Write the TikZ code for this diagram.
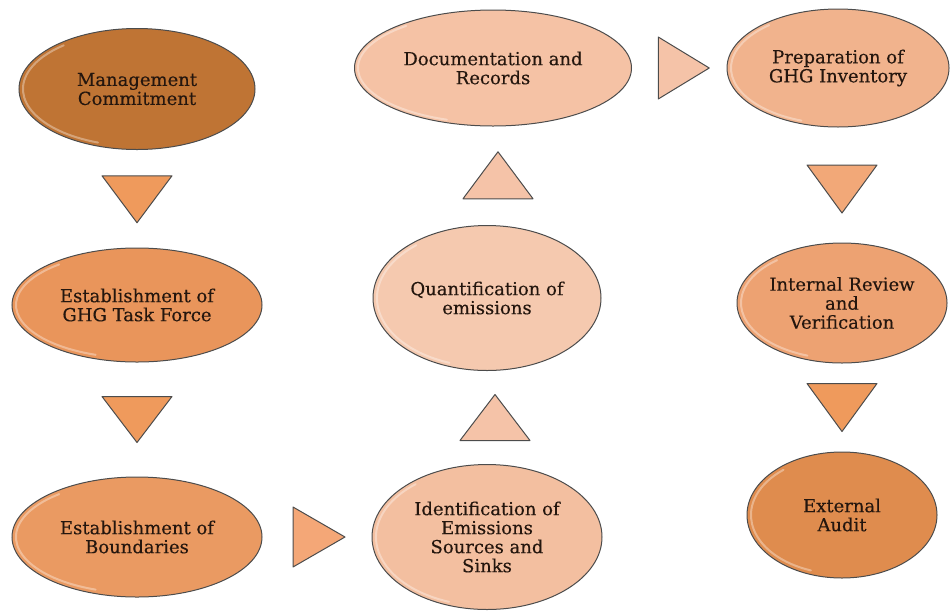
\documentclass[tikz,border=0pt]{standalone}
\usepackage{fontspec}
\setmainfont{DejaVu Serif}[FakeBold=0.3]
\usepackage{xcolor}
\usepackage{tikz}
\usetikzlibrary{shapes.geometric,calc}

\definecolor{txtbrown}{HTML}{24160E}
\definecolor{rust}{HTML}{BF7434}
\definecolor{orangeA}{HTML}{E9955B}
\definecolor{orangeB}{HTML}{EA9A62}
\definecolor{peachA}{HTML}{F3BFA0}
\definecolor{peachB}{HTML}{F5C9AF}
\definecolor{peachC}{HTML}{F5C2A5}
\definecolor{peachD}{HTML}{F1B38D}
\definecolor{orangeC}{HTML}{EDA272}
\definecolor{orangeD}{HTML}{DF8C4E}
\definecolor{triA}{HTML}{EF9A5C}
\definecolor{triB}{HTML}{F4A777}
\definecolor{triC}{HTML}{F5C3A8}
\definecolor{triD}{HTML}{F2A878}

\begin{document}
\begin{tikzpicture}[x=1pt,y=-1pt,
  stage/.style={ellipse, draw=black!70, line width=1pt, align=center,
    inner sep=0pt, text=txtbrown, font=\fontsize{18}{19}\selectfont},
  gloss/.style={white, opacity=.35, line width=2pt, line cap=round},
  tri/.style={draw=black!70, line width=1pt, line join=round}]
\useasboundingbox (0,0) rectangle (950,611);

% left column
\node[stage, fill=rust, minimum width=236pt, minimum height=121pt] (mgmt) at (137,89) {Management\\Commitment};
\node[stage, fill=orangeA, minimum width=250pt, minimum height=114pt] (task) at (137,305) {Establishment of\\GHG Task Force};
\node[stage, fill=orangeB, minimum width=250pt, minimum height=120pt] (bound) at (137,537) {Establishment of\\Boundaries};

% middle column
\node[stage, fill=peachA, minimum width=230pt, minimum height=145pt] (ident) at (487,537) {Identification of\\Emissions\\Sources and\\Sinks};
\node[stage, fill=peachB, minimum width=228pt, minimum height=145pt] (quant) at (487,298) {Quantification of\\emissions};
\node[stage, fill=peachC, minimum width=277pt, minimum height=116pt] (docs) at (493,68) {Documentation and\\Records};

% right column
\node[stage, fill=peachD, minimum width=222pt, minimum height=118pt] (prep) at (838,68) {Preparation of\\GHG Inventory};
\node[stage, fill=orangeC, minimum width=210pt, minimum height=120pt] (review) at (842,303) {Internal Review\\and\\Verification};
\node[stage, fill=orangeD, minimum width=190pt, minimum height=126pt] (audit) at (842,515) {External\\Audit};

% highlight on the left rim
\foreach \nd/\rx/\ry in {mgmt/114/57, task/121/53, bound/121/56, ident/111/69, quant/110/69,
    docs/135/55, prep/107/56, review/101/56, audit/91/59}
  \draw[gloss] (\nd.center) ++({\rx*cos(110)},{\ry*sin(110)}) arc[start angle=110, end angle=230, x radius=\rx, y radius=\ry];

% triangle arrows
\coordinate (d1) at ($(mgmt.south)!.5!(task.north)$);
\coordinate (d2) at ($(task.south)!.5!(bound.north)$);
\coordinate (r1) at ($(bound.east)!.5!(ident.west)+(2,0)$);
\coordinate (u1) at ($(ident.north)!.5!(quant.south)+(8,0)$);
\coordinate (u2) at ($(quant.north)!.5!(docs.south)+(8,0)$);
\coordinate (r2) at ($(docs.east)!.5!(prep.west)+(4,0)$);
\coordinate (d3) at ($(prep.south)!.5!(review.north)+(2,4)$);
\coordinate (d4) at ($(review.south)!.5!(audit.north)$);

\filldraw[tri, fill=triA] (d1) ++(-35,-23) -- ++(70,0) -- ++(-35,47) -- cycle;
\filldraw[tri, fill=triA] (d2) ++(-35,-23) -- ++(70,0) -- ++(-35,46) -- cycle;
\filldraw[tri, fill=triB] (r1) ++(-26,-30) -- ++(52,30) -- ++(-52,30) -- cycle;
\filldraw[tri, fill=triC] (u1) ++(-35,23) -- ++(70,0) -- ++(-35,-46) -- cycle;
\filldraw[tri, fill=triC] (u2) ++(-35,23) -- ++(70,0) -- ++(-35,-47) -- cycle;
\filldraw[tri, fill=triC] (r2) ++(-25,-31) -- ++(51,31) -- ++(-51,31) -- cycle;
\filldraw[tri, fill=triD] (d3) ++(-35,-24) -- ++(70,0) -- ++(-35,48) -- cycle;
\filldraw[tri, fill=triA] (d4) ++(-35,-24) -- ++(70,0) -- ++(-35,48) -- cycle;
\end{tikzpicture}
\end{document}
